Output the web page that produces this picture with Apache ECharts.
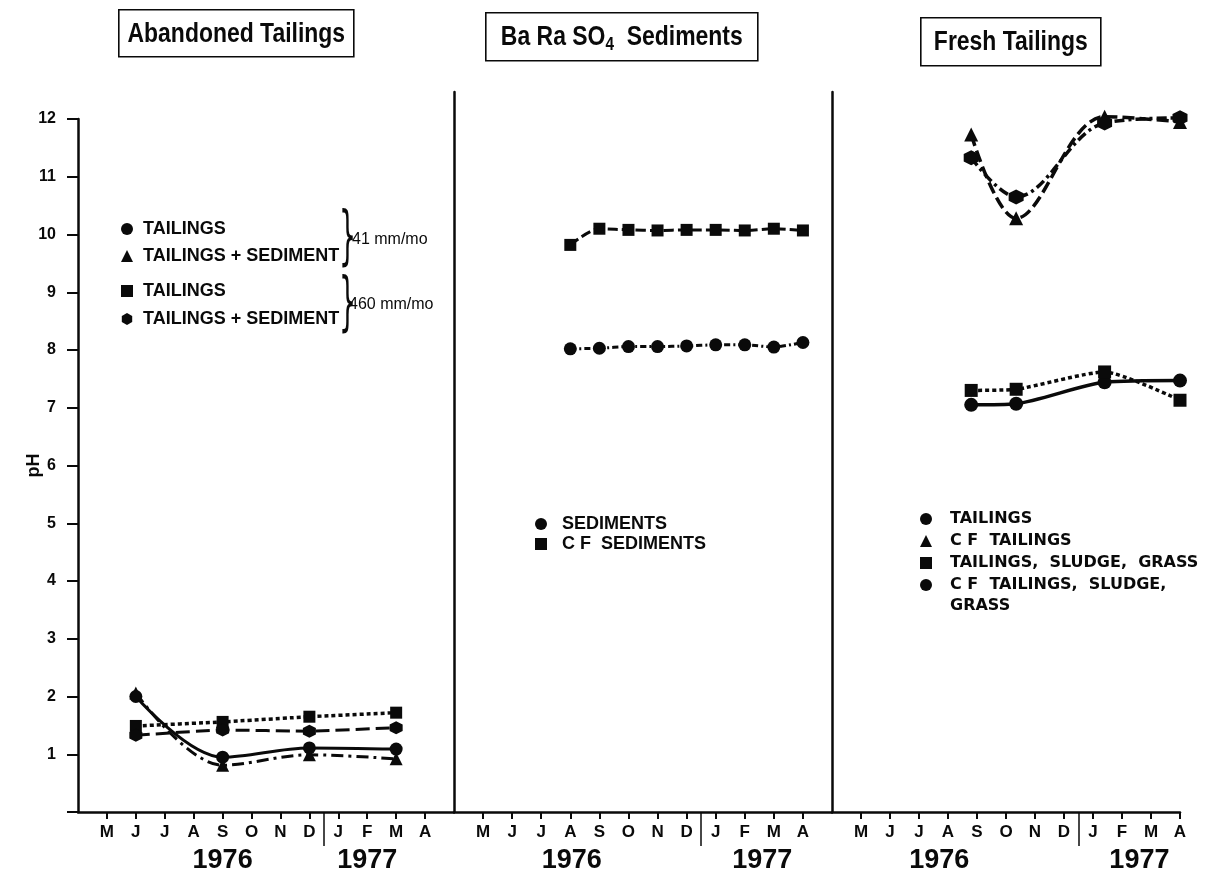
<!DOCTYPE html>
<html>
<head>
<meta charset="utf-8">
<script src="https://cdn.jsdelivr.net/npm/echarts@6/dist/echarts.min.js"></script>
<style>
html,body{margin:0;padding:0;background:#fff;}
#chart{width:1223px;height:879px;}
</style>
</head>
<body>
<div id="chart"></div>
<script>
// ---- tick labels ----
const months = ['M','J','J','A','S','O','N','D','J','F','M','A'];
const monthIdx = [0,1,2,3,4,5,6,7,8,9,10,11];
const yearLabels = ['1976','1977'];
const yTickValues = [1,2,3,4,5,6,7,8,9,10,11,12];
const panelTitles = ['Abandoned Tailings', '{n|Ba Ra SO}{s|4}{n|  Sediments}', 'Fresh Tailings'];

// ---- Abandoned Tailings (month index of samples) ----
const abandonedX = [1, 4, 7, 10];
const abTailings41 = [2.00, 0.95, 1.11, 1.09];
const abTailSed41 = [2.06, 0.81, 0.99, 0.92];
const abTailings460 = [1.49, 1.56, 1.65, 1.72];
const abTailSed460 = [1.33, 1.42, 1.40, 1.46];

// ---- Ba Ra SO4 Sediments ----
const sedX = [3, 4, 5, 6, 7, 8, 9, 10, 11];
const sediments = [8.02, 8.03, 8.06, 8.06, 8.07, 8.09, 8.09, 8.05, 8.13];
const cfSediments = [9.82, 10.10, 10.08, 10.07, 10.08, 10.08, 10.07, 10.10, 10.07];

// ---- Fresh Tailings ----
const freshX = [3.8, 5.35, 8.4, 11];
const frTailings = [7.05, 7.07, 7.44, 7.47];
const frCfTailings = [11.73, 10.28, 12.04, 11.95];
const frTSG = [7.30, 7.32, 7.62, 7.13];
const frCfTSG = [11.33, 10.65, 11.93, 12.02];

// ---- legend labels ----
const labels = {
  a1: 'TAILINGS', a2: 'TAILINGS + SEDIMENT', a3: 'TAILINGS', a4: 'TAILINGS + SEDIMENT',
  b1: 'SEDIMENTS', b2: 'C F  SEDIMENTS',
  c1: 'TAILINGS', c2: 'C F  TAILINGS', c3: 'TAILINGS,  SLUDGE,  GRASS', c4: 'C F  TAILINGS,  SLUDGE,'
};
const grassLine = 'GRASS';
const rateLabels = ['41 mm/mo', '460 mm/mo'];

const HEX = 'path://M0,-10 L8.66,-5 L8.66,5 L0,10 L-8.66,5 L-8.66,-5 Z';
const INK = '#0a0a0a';
const FONT = '"Liberation Sans", Arial, sans-serif';
const DJV = '"DejaVu Sans", sans-serif';

function zip(xs, ys){ return xs.map((x,i)=>[x, ys[i]]); }

const yearPos = [[4, 9], [3.05, 9.6], [2.7, 9.6]];
const xMax = [12, 12, 11];
const yTopMax = 12 * 720 / 693;

const xAxes = [];
for (let p = 0; p < 3; p++) {
  xAxes.push({
    type: 'value', gridIndex: p, position: 'bottom', min: -1, max: xMax[p],
    axisLine: { show: true, onZero: false, lineStyle: { color: INK, width: 2.5 } },
    axisTick: { show: true, customValues: monthIdx, length: 7, lineStyle: { color: INK, width: 2 } },
    axisLabel: { customValues: monthIdx, formatter: v => (months[v] !== undefined ? months[v] : ''),
      margin: 12, color: INK, fontSize: 17, fontWeight: 'bold', fontFamily: FONT },
    splitLine: { show: false }
  });
  const yp = yearPos[p];
  xAxes.push({
    type: 'value', gridIndex: p, position: 'bottom', min: -1, max: xMax[p],
    axisLine: { show: false, onZero: false },
    axisTick: { show: true, customValues: [7.5], length: 34, lineStyle: { color: INK, width: 1.5 } },
    axisLabel: { customValues: yp, formatter: v => { const i = yp.indexOf(v); return i >= 0 ? yearLabels[i] : ''; },
      margin: 35, color: INK, fontSize: 27, fontWeight: 'bold', fontFamily: FONT },
    splitLine: { show: false }
  });
}

const yAxes = [
  { type: 'value', gridIndex: 0, min: 0, max: 12, interval: 1,
    name: 'pH', nameLocation: 'middle', nameRotate: 90, nameGap: 35, nameMoveOverlap: false,
    nameTextStyle: { color: INK, fontSize: 18, fontWeight: 'bold', fontFamily: FONT },
    axisLine: { show: true, onZero: false, lineStyle: { color: INK, width: 2.5 } },
    axisTick: { show: true, length: 11, lineStyle: { color: INK, width: 2 } },
    axisLabel: { formatter: v => (yTickValues.indexOf(v) >= 0 ? String(v) : ''), margin: 22,
      color: INK, fontSize: 16, fontWeight: 'bold', fontFamily: FONT },
    splitLine: { show: false } },
  { type: 'value', gridIndex: 1, min: 0, max: yTopMax,
    axisLine: { show: true, onZero: false, lineStyle: { color: INK, width: 2.5 } },
    axisTick: { show: false }, axisLabel: { show: false }, splitLine: { show: false } },
  { type: 'value', gridIndex: 2, min: 0, max: yTopMax,
    axisLine: { show: true, onZero: false, lineStyle: { color: INK, width: 2.5 } },
    axisTick: { show: false }, axisLabel: { show: false }, splitLine: { show: false } }
];

function line(name, p, xs, ys, symbol, size, dash, width, smooth) {
  return {
    name, type: 'line', xAxisIndex: p * 2, yAxisIndex: p, data: zip(xs, ys),
    symbol, symbolSize: size, smooth: smooth,
    itemStyle: { color: INK },
    lineStyle: { color: INK, width: width, type: dash },
    z: 3
  };
}

const series = [
  line('a1', 0, abandonedX, abTailings41, 'circle', 13, 'solid', 3, 0.35),
  line('a2', 0, abandonedX, abTailSed41, 'triangle', 13, [12, 5, 3, 5], 3, 0.35),
  line('a3', 0, abandonedX, abTailings460, 'rect', 12, [4, 3], 3.5, 0.1),
  line('a4', 0, abandonedX, abTailSed460, HEX, 13, [14, 6], 3, 0.1),
  line('b1', 1, sedX, sediments, 'circle', 13, [6, 3, 2, 3], 3, 0.2),
  line('b2', 1, sedX, cfSediments, 'rect', 12, [10, 4], 3, 0.3),
  line('c1', 2, freshX, frTailings, 'circle', 14, 'solid', 3.5, 0.25),
  line('c2', 2, freshX, frCfTailings, 'triangle', 14, [12, 5], 3.5, 0.35),
  line('c3', 2, freshX, frTSG, 'rect', 13, [4, 3], 3.5, 0.2),
  line('c4', 2, freshX, frCfTSG, HEX, 15, [10, 4, 3, 4], 3.5, 0.35)
];

function legend(names, icons, left, top, gap, font, size, lh, pad) {
  return {
    orient: 'vertical', left, top, itemGap: gap, itemWidth: 12, itemHeight: 12,
    selectedMode: false,
    data: names.map((n, i) => ({ name: n, icon: icons[i] })),
    formatter: n => labels[n],
    textStyle: { color: INK, fontSize: size, fontWeight: 'bold', fontFamily: font, lineHeight: lh, padding: [0, 0, 0, pad] }
  };
}

function titleBox(text, left, top, w, h) {
  return {
    type: 'group', left, top,
    children: [
      { type: 'rect', shape: { x: 0, y: 0, width: w, height: h }, style: { fill: '#fff', stroke: INK, lineWidth: 1.6 } },
      { type: 'text', x: w / 2, y: h / 2 + 1, scaleX: 0.85,
        style: { text, fill: INK, fontSize: 27, fontWeight: 'bold', fontFamily: FONT, align: 'center', verticalAlign: 'middle',
          rich: { n: { fill: INK, fontSize: 27, fontWeight: 'bold', fontFamily: FONT, lineHeight: 33 },
                  s: { fill: INK, fontSize: 18, fontWeight: 'bold', fontFamily: FONT, lineHeight: 13, verticalAlign: 'bottom' } } } }
    ]
  };
}

function brace(x, y) {
  return { type: 'text', x, y, scaleX: 0.42,
    style: { text: '}', fontSize: 64, fontFamily: DJV, fill: INK, verticalAlign: 'middle' } };
}

const option = {
  animation: false,
  backgroundColor: '#fff',
  legend: [
    legend(['a1', 'a2'], ['circle', 'triangle'], 116, 215, 9, FONT, 18, 18, 5),
    legend(['a3', 'a4'], ['rect', HEX], 116, 277, 10, FONT, 18, 18, 5),
    legend(['b1', 'b2'], ['circle', 'rect'], 530, 510, 2, FONT, 18, 18, 10),
    legend(['c1', 'c2', 'c3', 'c4'], ['circle', 'triangle', 'rect', 'circle'], 915, 504, 2, DJV, 16, 20, 13)
  ],
  grid: [
    { left: 78, top: 119, width: 376, height: 693, outerBoundsMode: 'none', containLabel: false },
    { left: 454, top: 92, width: 378, height: 720, outerBoundsMode: 'none', containLabel: false },
    { left: 832, top: 92, width: 348, height: 720, outerBoundsMode: 'none', containLabel: false }
  ],
  xAxis: xAxes,
  yAxis: yAxes,
  series: series,
  graphic: [
    titleBox(panelTitles[0], 118, 9, 235, 47),
    titleBox(panelTitles[1], 485, 12, 272, 48),
    titleBox(panelTitles[2], 920, 17, 180, 48),
    brace(339, 240),
    brace(339, 306),
    { type: 'text', x: 352, y: 240, style: { text: rateLabels[0], fontSize: 16, fontFamily: FONT, fill: INK, verticalAlign: 'middle' } },
    { type: 'text', x: 349, y: 305, style: { text: rateLabels[1], fontSize: 16, fontFamily: FONT, fill: INK, verticalAlign: 'middle' } },
    { type: 'text', x: 950, y: 606, style: { text: grassLine, fontSize: 16, fontWeight: 'bold', fontFamily: DJV, fill: INK, verticalAlign: 'middle' } }
  ]
};

const chart = echarts.init(document.getElementById('chart'), null, { renderer: 'canvas' });
chart.setOption(option);
</script>
</body>
</html>
